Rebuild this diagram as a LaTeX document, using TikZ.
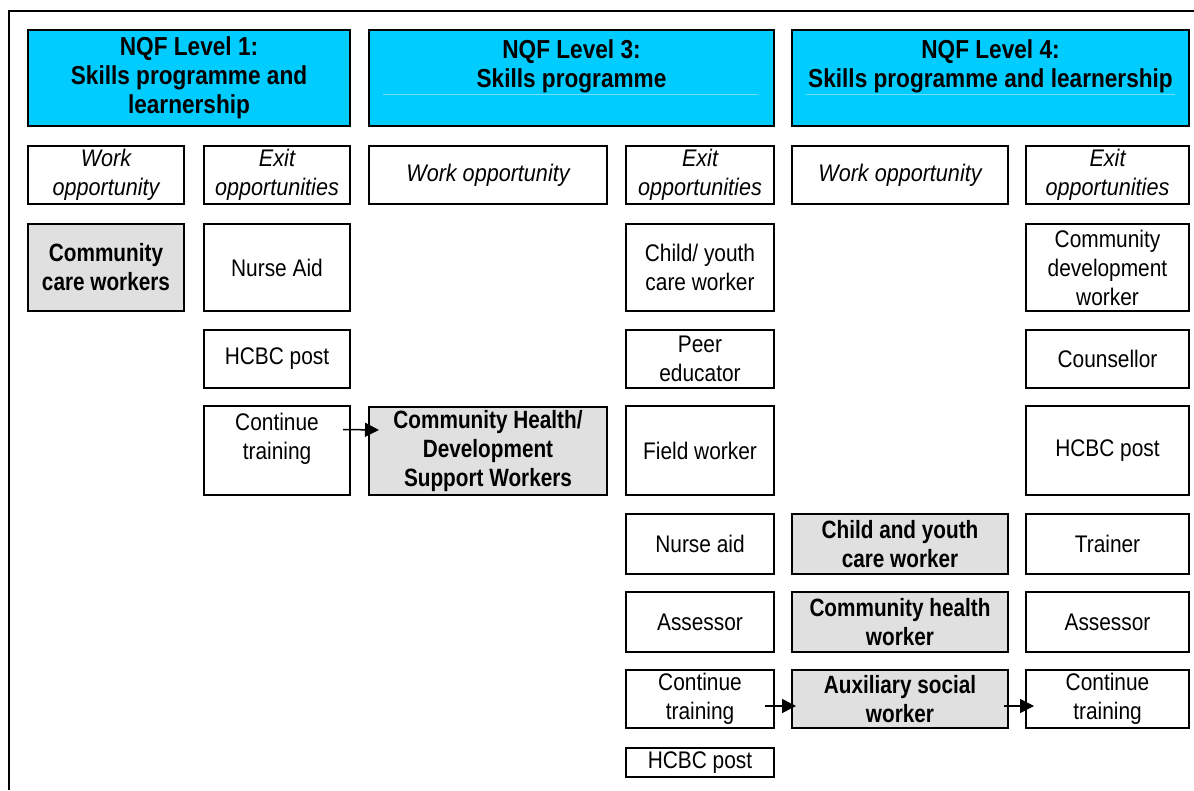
\documentclass[tikz,border=0pt]{standalone}
\usepackage{fontspec}
\setmainfont{Liberation Sans}[FakeStretch=0.87]
\newfontfamily\hdrfont{Liberation Sans}[FakeStretch=0.87]
\newfontfamily\jobfont{Liberation Sans}[FakeStretch=0.83]
\newfontfamily\labfont{Liberation Sans}[FakeStretch=0.9]
\usetikzlibrary{arrows.meta}
\definecolor{hdrblue}{RGB}{0,204,255}
\definecolor{hdrline}{RGB}{110,222,255}
\definecolor{workgray}{RGB}{224,224,224}

% \placebox{name}{x1}{y1}{x2}{y2}{style}{text}: box given by its corners (y downwards)
\newcommand\placebox[7]{%
  \node[#6, minimum width={(#4-#2)*1pt}, minimum height={(#5-#3)*1pt}]
    (#1) at ({(#2+#4)/2},{-(#3+#5)/2}) {#7};}

\tikzset{
  box/.style={draw, line width=2pt, inner sep=0pt, align=center,
    font=\fontsize{24}{29}\selectfont},
  hdr/.style={box, fill=hdrblue, font=\hdrfont\fontsize{26}{29}\selectfont\bfseries},
  lab/.style={box, font=\labfont\fontsize{24}{29}\selectfont\itshape},
  job/.style={box, fill=workgray, font=\jobfont\fontsize{25}{29}\selectfont\bfseries},
  arr/.style={-{Triangle[length=14pt,width=14pt]}, line width=1.5pt},
}

\begin{document}
\begin{tikzpicture}[x=1pt,y=1pt]
\useasboundingbox (0,0) rectangle (1194,-790);
\fill[white] (0,0) rectangle (1194,-790);

% outer frame (top and left edges)
\draw[line width=2.5pt] (9,-790) -- (9,-11) -- (1194,-11);

% level headers
\placebox{h1}{28}{30}{350}{126}{hdr}{NQF Level 1:\\Skills programme and\\learnership}
\placebox{h3}{369}{30}{774}{126}{hdr}{NQF Level 3:\\Skills programme\\~}
\placebox{h4}{792}{30}{1189}{126}{hdr}{NQF Level 4:\\Skills programme and learnership\\~}
\draw[hdrline, line width=0.6pt] (383,-94) -- (758,-94);
\draw[hdrline, line width=0.6pt] (806,-94) -- (1175,-94);

% column labels
\placebox{w1}{28}{146}{184}{204}{lab}{Work\\opportunity}
\placebox{e1}{204}{146}{350}{204}{lab}{Exit\\opportunities}
\placebox{w3}{369}{146}{607}{204}{lab}{Work opportunity}
\placebox{e3}{626}{146}{774}{204}{lab}{Exit\\opportunities}
\placebox{w4}{792}{146}{1008}{204}{lab}{Work opportunity}
\placebox{e4}{1026}{146}{1189}{204}{lab}{Exit\\opportunities}

% level 1
\placebox{ccw}{28}{224}{184}{311}{job}{Community\\care workers}
\placebox{na1}{204}{224}{350}{311}{box}{Nurse Aid}
\placebox{hc1}{204}{330}{350}{388}{box}{HCBC post}
\placebox{ct1}{204}{406}{350}{495}{box}{Continue\\training\\~}

% level 3
\placebox{chd}{369}{407}{607}{495}{job}{Community Health/\\Development\\Support Workers}
\placebox{cyw}{626}{224}{774}{311}{box}{Child/ youth\\care worker}
\placebox{pe}{626}{330}{774}{388}{box}{Peer\\educator}
\placebox{fw}{626}{406}{774}{495}{box}{Field worker}
\placebox{na3}{626}{514}{774}{574}{box}{Nurse aid}
\placebox{as3}{626}{592}{774}{652}{box}{Assessor}
\placebox{ct3}{626}{670}{774}{728}{box}{Continue\\training}
\placebox{hc3}{626}{748}{774}{777}{box}{HCBC post}

% level 4
\placebox{cyw4}{792}{514}{1008}{574}{job}{Child and youth\\care worker}
\placebox{chw}{792}{592}{1008}{652}{job}{Community health\\worker}
\placebox{asw}{792}{670}{1008}{728}{job}{Auxiliary social\\worker}
\placebox{cdw}{1026}{224}{1189}{311}{box}{Community\\development\\worker}
\placebox{cou}{1026}{330}{1189}{388}{box}{Counsellor}
\placebox{hc4}{1026}{406}{1189}{495}{box}{HCBC post}
\placebox{tr}{1026}{514}{1189}{574}{box}{Trainer}
\placebox{as4}{1026}{592}{1189}{652}{box}{Assessor}
\placebox{ct4}{1026}{670}{1189}{728}{box}{Continue\\training}

% progression arrows
\draw[arr] ([xshift=-8pt,yshift=21pt]ct1.east) -- ([xshift=11pt,yshift=21pt]chd.west);
\draw[arr] ([xshift=-10pt,yshift=-7pt]ct3.east) -- ([xshift=5pt,yshift=-7pt]asw.west);
\draw[arr] ([xshift=-5pt,yshift=-7pt]asw.east) -- ([xshift=9pt,yshift=-7pt]ct4.west);
\end{tikzpicture}
\end{document}
